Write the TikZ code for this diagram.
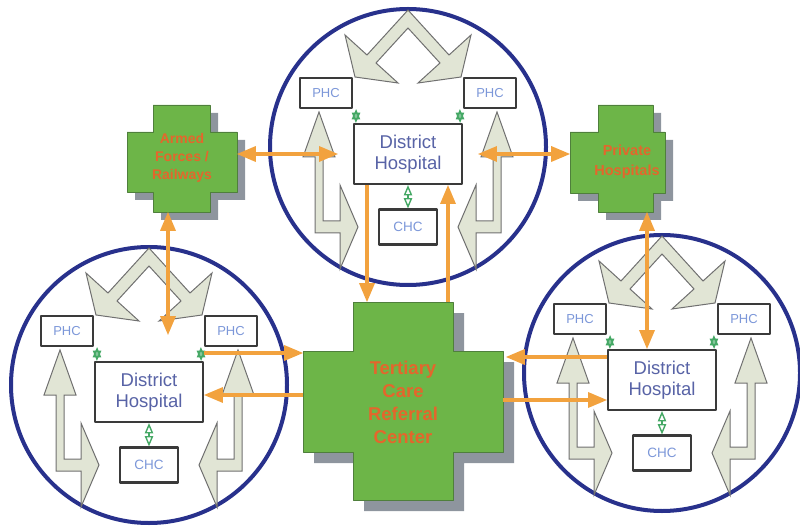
\documentclass[tikz,border=0pt]{standalone}
\usepackage{fontspec}
\setmainfont{Liberation Sans}
\usepackage{tikz}
\usetikzlibrary{arrows}

\definecolor{ringblue}{HTML}{28318C}
\definecolor{routeorange}{HTML}{F2A23E}
\definecolor{crossgreen}{HTML}{6DB548}
\definecolor{crossline}{HTML}{4F7F3C}
\definecolor{crossshade}{HTML}{8E959E}
\definecolor{paleflow}{HTML}{E1E5D5}
\definecolor{flowline}{HTML}{707070}
\definecolor{boxline}{HTML}{3A3A3A}
\definecolor{phctext}{HTML}{7C97D9}
\definecolor{dhtext}{HTML}{5863A6}
\definecolor{linkgreen}{HTML}{45A865}
\definecolor{crosstext}{HTML}{E4662C}

\tikzset{
  unit/.style={draw=boxline, line width=2.2pt, fill=white, inner sep=1pt},
  phc/.style={unit, minimum width=52pt, minimum height=30pt, text=phctext, font=\fontsize{13}{15}\selectfont},
  chc/.style={unit, minimum width=58pt, minimum height=35pt, text=phctext, font=\fontsize{13.5}{15}\selectfont},
  hosp/.style={unit, minimum width=108pt, minimum height=60pt, align=center, text=dhtext, font=\fontsize{18.5}{21}\selectfont},
  flow/.style={fill=paleflow, draw=flowline, line width=1pt, line join=miter},
  ring/.style={draw=ringblue, line width=4pt},
  link/.style={draw=linkgreen, line width=1.4pt, open triangle 45-open triangle 45},
  route/.style={draw=routeorange, line width=3.5pt},
  crossbox/.style={fill=crossgreen, draw=crossline, line width=0.6pt, preaction={fill=crossshade, transform canvas={xshift=#1, yshift=-#1}}},
  crosslabel/.style={text=crosstext, align=center, font=\bfseries\fontsize{14}{18}\selectfont},
  cluster/.pic={
    \draw[ring] (0,0) circle (138pt);
    \draw[flow] (0,-137) -- (41,-92) -- (63,-112) -- (53,-70) -- (10,-64) -- (32,-84) -- (0,-119) -- (-32,-84) -- (-10,-64) -- (-53,-70) -- (-63,-112) -- (-41,-92) -- cycle;
    \draw[flow] (-89,-35) -- (-73,10) -- (-85,10) -- (-85,74) -- (-68,74) -- (-68,38) -- (-50,80) -- (-68,122) -- (-68,86) -- (-93,86) -- (-93,10) -- (-105,10) -- cycle;
    \draw[flow] (89,-35) -- (73,10) -- (85,10) -- (85,74) -- (68,74) -- (68,38) -- (50,80) -- (68,122) -- (68,86) -- (93,86) -- (93,10) -- (105,10) -- cycle;
    \node[phc] (-phcl) at (-82,-54) {PHC};
    \node[phc] (-phcr) at (82,-54) {PHC};
    \node[hosp] (-dh) at (0,7) {District\\Hospital};
    \node[chc] (-chc) at (0,80) {CHC};
    \draw[link] ([xshift=3pt]-phcl.south east) -- ([xshift=3pt]-dh.north west);
    \draw[link] ([xshift=-3pt]-phcr.south west) -- ([xshift=-3pt]-dh.north east);
    \draw[link] (-dh.south) -- (-chc.north);
  }
}

\begin{document}
\begin{tikzpicture}[x=1pt, y=-1pt, >=triangle 45, line join=round]
\useasboundingbox (0,0) rectangle (800,529);
% three districts
\pic (top) at (408,147) {cluster};
\pic (bl) at (149,385) {cluster};
\pic (br) at (662,373) {cluster};
% crosses
\draw[crossbox=8pt] (127,132) -| (153,105) -| (210,132) -| (237,192) -| (210,212) -| (153,192) -- (127,192) -- cycle;
\draw[crossbox=8pt] (570,132) -| (598,105) -| (653,132) -| (665,193) -| (653,212) -| (598,193) -- (570,193) -- cycle;
\draw[crossbox=11pt] (303,351) -| (353,302) -| (453,351) -| (503,452) -| (453,500) -| (353,452) -- (303,452) -- cycle;
\node[crosslabel] (armed) at (182,158) {Armed\\Forces /\\Railways};
\node[crosslabel, font=\bfseries\fontsize{14.5}{20}\selectfont] (priv) at (627,162) {Private\\Hospitals};
\node[crosslabel, font=\bfseries\fontsize{18.5}{23}\selectfont] (tcc) at (403,402) {Tertiary\\Care\\Referral\\Center};
% arrow ends on the crosses
\coordinate (armE) at (237,155);
\coordinate (armS) at (168,212);
\coordinate (privW) at (570,155);
\coordinate (privS) at (647,212);
\coordinate (tccN1) at (367,302);
\coordinate (tccN2) at (448,302);
\coordinate (tccW1) at (303,353);
\coordinate (tccW2) at (303,395);
\coordinate (tccE1) at (506,357);
\coordinate (tccE2) at (503,400);
% referral routes
\draw[route,<->] (top-dh.west -| armE) -- ([xshift=-15pt]top-dh.west);
\draw[route,<->] ([xshift=15pt]top-dh.east) -- (top-dh.east -| privW);
\draw[route,->] (top-dh.south -| tccN1) -- (tccN1);
\draw[route,->] (tccN2) -- (top-dh.south -| tccN2);
\draw[route,<->] (armS) -- ([yshift=26pt]bl-dh.north -| armS);
\draw[route,->] (bl-dh.north east |- tccW1) -- (tccW1);
\draw[route,->] (tccW2) -- (bl-dh.east |- tccW2);
\draw[route,->] (br-dh.west |- tccE1) -- (tccE1);
\draw[route,->] (tccE2) -- (br-dh.west |- tccE2);
\draw[route,<->] (privS) -- (br-dh.north -| privS);
\end{tikzpicture}
\end{document}
